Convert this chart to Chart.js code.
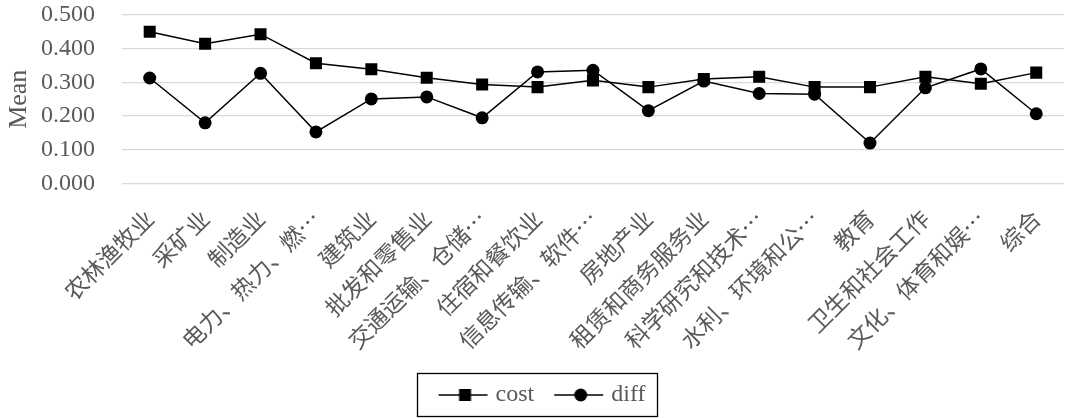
<!DOCTYPE html>
<html>
<head>
<meta charset="utf-8">
<script src="https://cdn.jsdelivr.net/npm/chart.js@4/dist/chart.umd.min.js"></script>
<style>
  html, body { margin: 0; padding: 0; background: #ffffff; overflow: hidden; }
  #viewport { width: 1070px; height: 418px; overflow: hidden; }
  #wrap { width: 1077px; height: 418px; position: relative; }
</style>
</head>
<body>
<div id="viewport"><div id="wrap"><canvas id="chart"></canvas></div></div>
<script>
// Industry categories along the x axis
const industries = [
  '农林渔牧业', '采矿业', '制造业', '电力、热力、燃…', '建筑业', '批发和零售业',
  '交通运输、仓储…', '住宿和餐饮业', '信息传输、软件…', '房地产业', '租赁和商务服务业',
  '科学研究和技术…', '水利、环境和公…', '教育', '卫生和社会工作', '文化、体育和娱…', '综合'
];

// Mean values per industry
const costMeans = [0.450, 0.415, 0.443, 0.357, 0.339, 0.314, 0.294, 0.286, 0.306,
                   0.286, 0.310, 0.317, 0.286, 0.286, 0.317, 0.296, 0.329];
const diffMeans = [0.313, 0.180, 0.327, 0.153, 0.251, 0.257, 0.195, 0.331, 0.336,
                   0.216, 0.304, 0.267, 0.265, 0.120, 0.284, 0.340, 0.207];

// Value axis ticks
const yTickValues = [0.0, 0.1, 0.2, 0.3, 0.4, 0.5];

const TEXT_GREY = '#595959';
const SERIF = '"Liberation Serif", "Times New Roman", serif';
const CJK = '"Noto Sans CJK SC", "Noto Sans", sans-serif';

// Legend icon: a short line with the series marker in the middle
function legendIcon(marker) {
  const c = document.createElement('canvas');
  c.width = 60; c.height = 16;
  const g = c.getContext('2d');
  g.strokeStyle = '#000'; g.lineWidth = 1.5;
  g.beginPath(); g.moveTo(9, 8); g.lineTo(58, 8); g.stroke();
  g.fillStyle = '#000';
  if (marker === 'rect') {
    g.fillRect(35.5 - 6, 8 - 6, 12, 12);
  } else {
    g.beginPath(); g.arc(35.5, 8, 6.5, 0, Math.PI * 2); g.fill();
  }
  return c;
}
const legendIcons = [legendIcon('rect'), legendIcon('circle')];

// Thin black frame drawn around the legend entries
const legendFrame = {
  id: 'legendFrame',
  afterDraw(chart) {
    const lg = chart.legend;
    if (!lg || !lg.legendHitBoxes || !lg.legendHitBoxes.length) return;
    const boxes = lg.legendHitBoxes;
    const first = boxes[0], last = boxes[boxes.length - 1];
    const left = Math.round(first.left - 19);
    const right = Math.round(last.left + last.width + 12);
    const top = Math.round(lg.top + 7);
    const bottom = 416;
    const ctx = chart.ctx;
    ctx.save();
    ctx.strokeStyle = '#000';
    ctx.lineWidth = 1.3;
    ctx.strokeRect(left + 0.5, top + 0.5, right - left, bottom - top);
    ctx.restore();
  }
};

new Chart(document.getElementById('chart'), {
  type: 'line',
  data: {
    labels: industries,
    datasets: [
      {
        label: 'cost',
        data: costMeans,
        borderColor: '#000',
        backgroundColor: '#000',
        borderWidth: 1.5,
        pointStyle: 'rect',
        pointRadius: 8.5,
        pointHoverRadius: 8.5,
        pointBorderWidth: 0,
        tension: 0
      },
      {
        label: 'diff',
        data: diffMeans,
        borderColor: '#000',
        backgroundColor: '#000',
        borderWidth: 1.5,
        pointStyle: 'circle',
        pointRadius: 6.5,
        pointHoverRadius: 6.5,
        pointBorderWidth: 0,
        tension: 0
      }
    ]
  },
  options: {
    responsive: true,
    maintainAspectRatio: false,
    animation: false,
    layout: { padding: { top: 15, left: 4, right: 0, bottom: 1 } },
    scales: {
      x: {
        offset: true,
        grid: { display: false, drawTicks: false },
        border: { display: false },
        ticks: {
          autoSkip: false,
          minRotation: 45,
          maxRotation: 45,
          padding: 21,
          color: TEXT_GREY,
          font: { family: CJK, size: 23 }
        },
        afterFit(scale) { scale.height = 182.5; }
      },
      y: {
        min: 0,
        max: 0.5,
        grid: { color: '#d9d9d9', lineWidth: 1.3, drawTicks: false },
        border: { display: false },
        afterBuildTicks(scale) { scale.ticks = yTickValues.map(v => ({ value: v })); },
        ticks: {
          autoSkip: false,
          padding: 27,
          color: TEXT_GREY,
          font: { family: SERIF, size: 24 },
          callback: v => Number(v).toFixed(3)
        },
        title: {
          display: true,
          text: 'Mean',
          color: TEXT_GREY,
          font: { family: SERIF, size: 26 },
          padding: { top: 0, bottom: 0 }
        },
        afterFit(scale) {
          scale.width = 118;
          scale.paddingTop = 10;
          scale.paddingBottom = 10;
        }
      }
    },
    plugins: {
      tooltip: { enabled: false },
      legend: {
        position: 'bottom',
        labels: {
          usePointStyle: true,
          pointStyleWidth: 48,
          padding: 17,
          color: TEXT_GREY,
          font: { family: SERIF, size: 24 },
          generateLabels(chart) {
            const items = Chart.defaults.plugins.legend.labels.generateLabels(chart);
            items.forEach((it, i) => { it.pointStyle = legendIcons[i]; });
            return items;
          }
        }
      }
    }
  },
  plugins: [legendFrame]
});
</script>
</body>
</html>
